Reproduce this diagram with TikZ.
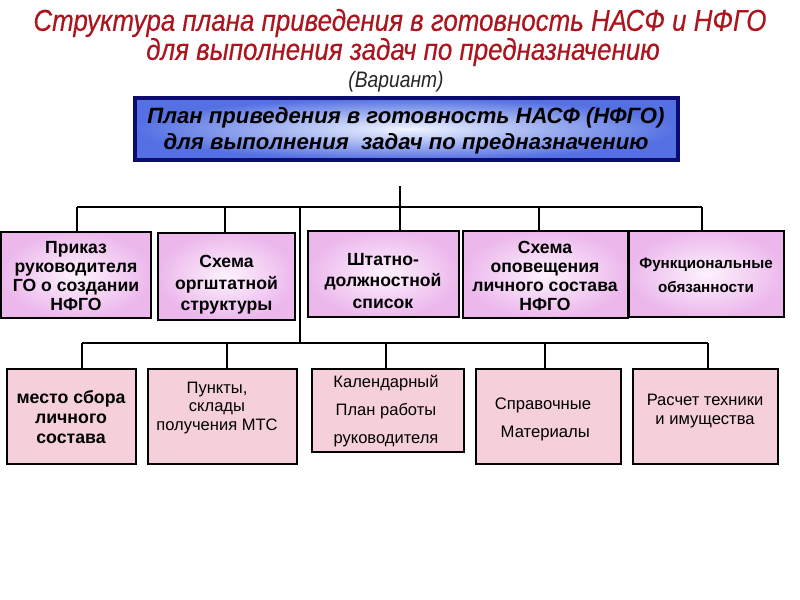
\documentclass[tikz,border=0pt]{standalone}
\usepackage{fontspec}
\setmainfont{Liberation Sans}
\newfontfamily\titlefont[FakeStretch=0.86, FakeBold=0.3]{Liberation Sans}
\newfontfamily\subfont[FakeStretch=0.86]{Liberation Sans}
\definecolor{titlered}{RGB}{172,20,30}
\definecolor{navyb}{RGB}{12,12,112}
\definecolor{bluein}{RGB}{240,245,255}
\definecolor{blueout}{RGB}{84,112,226}
\definecolor{violetin}{RGB}{253,242,253}
\definecolor{violetout}{RGB}{236,184,236}
\definecolor{pinkfill}{RGB}{245,208,218}
\tikzset{
  toprow/.style={draw=black, line width=0.9pt, shading=radial, inner color=violetin, outer color=violetout, anchor=center},
  botrow/.style={draw=black, line width=0.9pt, fill=pinkfill, anchor=center},
  btxt/.style={align=center, font=\bfseries\fontsize{13.2}{14.4}\selectfont, inner sep=0pt},
  rtxt/.style={align=center, font=\fontsize{12.5}{14}\selectfont, inner sep=0pt},
  conn/.style={draw=black, line width=0.8pt}
}
\begin{document}
\begin{tikzpicture}[x=0.75pt,y=-0.75pt]
\useasboundingbox (0,0) rectangle (800,600);
\fill[white] (0,0) rectangle (800,600);

% titles
\node[font=\titlefont\itshape\fontsize{22.6}{26}\selectfont, text=titlered, inner sep=0pt] (t1) at (400,23) {Структура плана приведения в готовность НАСФ и НФГО};
\node[font=\titlefont\itshape\fontsize{22.6}{26}\selectfont, text=titlered, inner sep=0pt] (t2) at (403,52) {для выполнения задач по предназначению};
\node[font=\subfont\itshape\fontsize{16.8}{19}\selectfont, text=black!85, inner sep=0pt] (t3) at (396,82) {(Вариант)};

% main box
\node[draw=navyb, line width=3.2pt, shading=radial, inner color=bluein, outer color=blueout,
      minimum width=543*0.75pt, minimum height=62*0.75pt, inner sep=0pt] (main) at (406.5,129) {};
\node[align=center, font=\bfseries\itshape\fontsize{16.6}{19.5}\selectfont, inner sep=0pt] (maintxt) at (406,131)
  {План приведения в готовность НАСФ (НФГО)\\для выполнения\ \ задач по предназначению};

% top row boxes
\node[toprow, minimum width=150*0.75pt, minimum height=86*0.75pt] (b1) at (76,275) {};
\node[toprow, minimum width=137*0.75pt, minimum height=87*0.75pt] (b2) at (226.5,276.5) {};
\node[toprow, minimum width=151*0.75pt, minimum height=86*0.75pt] (b3) at (383.5,274) {};
\node[toprow, minimum width=165*0.75pt, minimum height=87*0.75pt] (b4) at (545.5,274.5) {};
\node[toprow, minimum width=155*0.75pt, minimum height=86*0.75pt] (b5) at (706.5,274) {};

\node[btxt] (x1) at (76,276) {Приказ\\руководителя\\ГО о создании\\НФГО};
\node[btxt, font=\bfseries\fontsize{13.2}{16}\selectfont] (x2) at (226.5,285) {Схема\\оргштатной\\структуры};
\node[btxt, font=\bfseries\fontsize{13.2}{16}\selectfont] (x3) at (383,281) {Штатно-\\должностной\\список};
\node[btxt] (x4) at (545,276) {Схема\\оповещения\\личного состава\\НФГО};
\node[btxt, font=\bfseries\fontsize{11.4}{18}\selectfont] (x5) at (706,275) {Функциональные\\обязанности};

% bottom row boxes
\node[botrow, minimum width=129*0.75pt, minimum height=95*0.75pt] (b6) at (71.5,416.5) {};
\node[botrow, minimum width=149*0.75pt, minimum height=95*0.75pt] (b7) at (222.5,416.5) {};
\node[botrow, minimum width=152*0.75pt, minimum height=83*0.75pt] (b8) at (388,410.5) {};
\node[botrow, minimum width=145*0.75pt, minimum height=95*0.75pt] (b9) at (548.5,416.5) {};
\node[botrow, minimum width=145*0.75pt, minimum height=95*0.75pt] (b10) at (705.5,416.5) {};

\node[btxt, font=\bfseries\fontsize{13.3}{14.8}\selectfont] (x6) at (71,417) {место сбора\\личного\\состава};
\node[rtxt, font=\fontsize{12.4}{14}\selectfont] (x7) at (217,408) {Пункты,\\склады\\получения МТС};
\node[rtxt, font=\fontsize{12.4}{21}\selectfont] (x8) at (386,411) {Календарный\\План работы\\руководителя};
\node[rtxt, font=\fontsize{12.5}{21}\selectfont] (x9) at (543,419) {Справочные\\\ Материалы};
\node[rtxt, font=\fontsize{12.4}{14.3}\selectfont] (x10) at (705,411) {Расчет техники\\и имущества};

% upper connectors
\coordinate (top) at (400,186);
\coordinate (hl) at (77,207);
\coordinate (hr) at (702,207);
\coordinate (d2) at (225,207);
\coordinate (d4) at (539,207);
\coordinate (vm) at (300,207);
\draw[conn] (top) -- (top |- b3.north);
\draw[conn] (hl) -- (hr);
\draw[conn] (hl) -- (hl |- b1.north);
\draw[conn] (d2) -- (d2 |- b2.north);
\draw[conn] (d4) -- (d4 |- b4.north);
\draw[conn] (hr) -- (hr |- b5.north);

% lower connectors
\coordinate (ll) at (82,343);
\coordinate (lr) at (708,343);
\coordinate (lm) at (300,343);
\coordinate (e7) at (227,343);
\coordinate (e8) at (386,343);
\coordinate (e9) at (545,343);
\draw[conn] (vm) -- (lm);
\draw[conn] (ll) -- (lr);
\draw[conn] (ll) -- (ll |- b6.north);
\draw[conn] (e7) -- (e7 |- b7.north);
\draw[conn] (e8) -- (e8 |- b8.north);
\draw[conn] (e9) -- (e9 |- b9.north);
\draw[conn] (lr) -- (lr |- b10.north);
\end{tikzpicture}
\end{document}
